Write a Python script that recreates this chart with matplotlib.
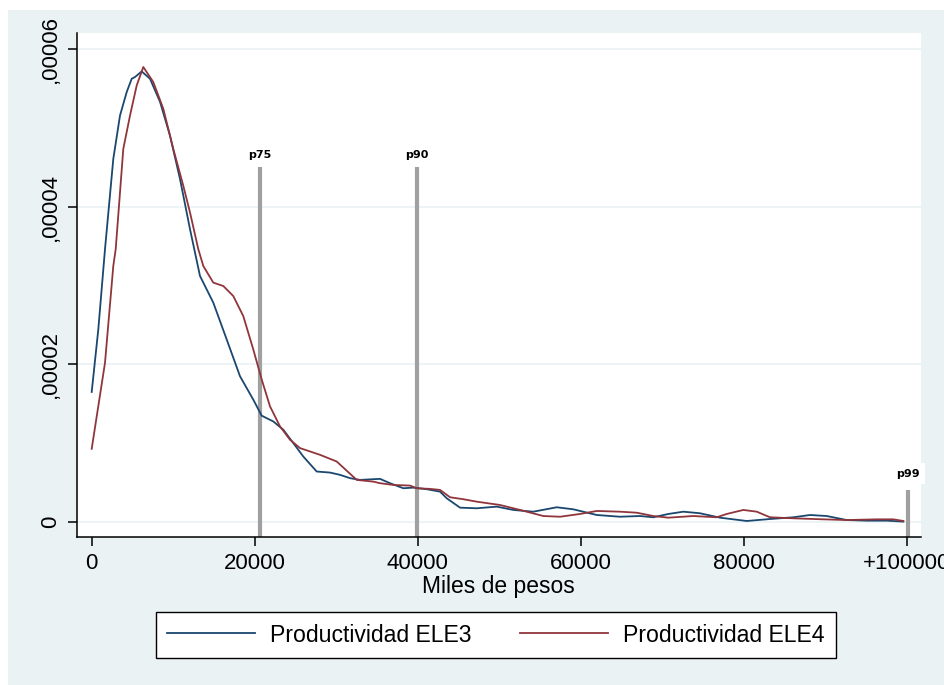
import matplotlib
matplotlib.use("Agg")
import matplotlib.pyplot as plt
from matplotlib.patches import Rectangle

plt.rcParams['font.family'] = ['Liberation Sans', 'DejaVu Sans']

# ---- data ----
ele3_x = [0, 810, 1632, 2650, 3472, 4294, 4908, 5313, 6135, 7153, 8380, 9607,
          10834, 12061, 13288, 14920, 16565, 18196, 19828, 20859, 22282, 23509,
          24736, 25963, 27608, 29240, 30467, 31694, 32921, 34553, 35375, 36602,
          38234, 39461, 41105, 42737, 43559, 45191, 47240, 49694, 51731, 54185,
          57056, 59093, 61964, 64823, 67277, 68909, 70749, 72590, 74634, 77088,
          80364, 83223, 86086, 88135, 90184, 92638, 95092, 97547, 99584]
ele3_y = [1.649, 2.441, 3.459, 4.603, 5.153, 5.451, 5.620, 5.642, 5.713, 5.620,
          5.328, 4.899, 4.349, 3.713, 3.119, 2.781, 2.314, 1.848, 1.551, 1.348,
          1.275, 1.170, 1.001, 0.830, 0.640, 0.627, 0.598, 0.556, 0.534, 0.543,
          0.547, 0.492, 0.428, 0.436, 0.416, 0.385, 0.301, 0.182, 0.174, 0.195,
          0.153, 0.131, 0.187, 0.161, 0.089, 0.067, 0.076, 0.060, 0.102, 0.131,
          0.111, 0.055, 0.013, 0.038, 0.060, 0.089, 0.076, 0.025, 0.017, 0.017,
          0.005]

ele4_x = [0, 1632, 2650, 2945, 3877, 4699, 5522, 6331, 7558, 8785, 10012,
          11239, 12061, 13080, 13693, 14920, 16147, 17374, 18601, 19828, 20859,
          21878, 23105, 24331, 25558, 28012, 30062, 32516, 34553, 35375, 37007,
          39056, 39878, 41510, 42737, 43964, 45596, 47240, 50099, 52553, 55412,
          57461, 59915, 61964, 64823, 66872, 68909, 70749, 73817, 76688, 77915,
          79952, 81597, 83223, 86086, 89767, 92638, 96319, 98356, 99584]
ele4_y = [0.928, 2.018, 3.246, 3.459, 4.730, 5.153, 5.535, 5.769, 5.578, 5.239,
          4.730, 4.263, 3.925, 3.459, 3.246, 3.035, 2.992, 2.865, 2.610, 2.187,
          1.806, 1.466, 1.212, 1.043, 0.937, 0.852, 0.767, 0.534, 0.512, 0.492,
          0.470, 0.462, 0.428, 0.420, 0.407, 0.314, 0.289, 0.258, 0.216, 0.153,
          0.076, 0.067, 0.102, 0.140, 0.131, 0.118, 0.076, 0.055, 0.076, 0.060,
          0.102, 0.153, 0.131, 0.060, 0.047, 0.034, 0.025, 0.034, 0.034, 0.013]
y_scale = 1e-5  # values above are in units of 1e-5

pct_labels = ['p75', 'p90', 'p99']
pct_x = [20650, 39900, 100150]
pct_top = [4.5e-5, 4.5e-5, 4.0e-6]

xticks = [0, 20000, 40000, 60000, 80000, 100000]
xticklabels = ['0', '20000', '40000', '60000', '80000', '+100000']
yticks = [0, 2e-5, 4e-5, 6e-5]
yticklabels = ['0', ',00002', ',00004', ',00006']

series_names = ['Productividad ELE3', 'Productividad ELE4']
colors = ['#1a476f', '#90353b']

# ---- figure ----
W, H = 945, 685
fig = plt.figure(figsize=(W / 100, H / 100), dpi=100, facecolor='white')
fig.patches.append(Rectangle((8 / W, 0), 1 - 8 / W, 1 - 10 / H,
                             transform=fig.transFigure, facecolor='#eaf2f3',
                             edgecolor='none', zorder=-10))

ax = fig.add_axes([76.7 / W, 1 - 537 / H, (920.6 - 76.7) / W, (537 - 33) / H])
ax.set_facecolor('white')

ymin, ymax = -1.9e-6, 6.2e-5
ax.set_xlim(-1840, 101700)
ax.set_ylim(ymin, ymax)

for y in yticks:
    ax.axhline(y, color='#eaf2f3', lw=1.2, zorder=0)

ax.plot(ele3_x, [v * y_scale for v in ele3_y], color=colors[0], lw=1.3,
        label=series_names[0], zorder=3)
ax.plot(ele4_x, [v * y_scale for v in ele4_y], color=colors[1], lw=1.3,
        label=series_names[1], zorder=3)

ax.vlines(pct_x, ymin, pct_top, colors='#a0a0a0', lw=3.0, zorder=2)
for lab, xv, tv in zip(pct_labels, pct_x, pct_top):
    off = 9 if lab != 'p99' else 12
    t = ax.annotate(lab, (xv, tv), xytext=(0, off), textcoords='offset points',
                    ha='center', va='center', fontsize=8, fontweight='bold',
                    family=['DejaVu Sans'], annotation_clip=False, zorder=4)
    if lab == 'p99':
        t.set_bbox(dict(facecolor='white', edgecolor='none', pad=4))

for s in ['top', 'right']:
    ax.spines[s].set_visible(False)
for s in ['left', 'bottom']:
    ax.spines[s].set_linewidth(1.1)
    ax.spines[s].set_color('black')

ax.set_xticks(xticks)
ax.set_xticklabels(xticklabels)
ax.set_yticks(yticks)
ax.set_yticklabels(yticklabels, rotation=90, va='center')
ax.tick_params(axis='both', direction='out', length=6.5, width=1.1,
               labelsize=16, colors='black')
ax.tick_params(axis='x', pad=5)
ax.tick_params(axis='y', pad=4.5)

ax.set_xlabel('Miles de pesos', fontsize=16.5)
ax.xaxis.set_label_coords(0.5, (537 - 587) / 504)
ax.xaxis.label.set_va('center')

leg = fig.legend(loc='center', bbox_to_anchor=(495.9 / W, 1 - 635 / H),
                 ncol=2, fontsize=16.6, frameon=True, fancybox=False,
                 edgecolor='black', facecolor='white', framealpha=1,
                 handlelength=3.8, handletextpad=0.66, columnspacing=2.1,
                 borderpad=0.5)
leg.get_frame().set_linewidth(1.0)

fig.savefig('out.png', dpi=100, facecolor=fig.get_facecolor())
